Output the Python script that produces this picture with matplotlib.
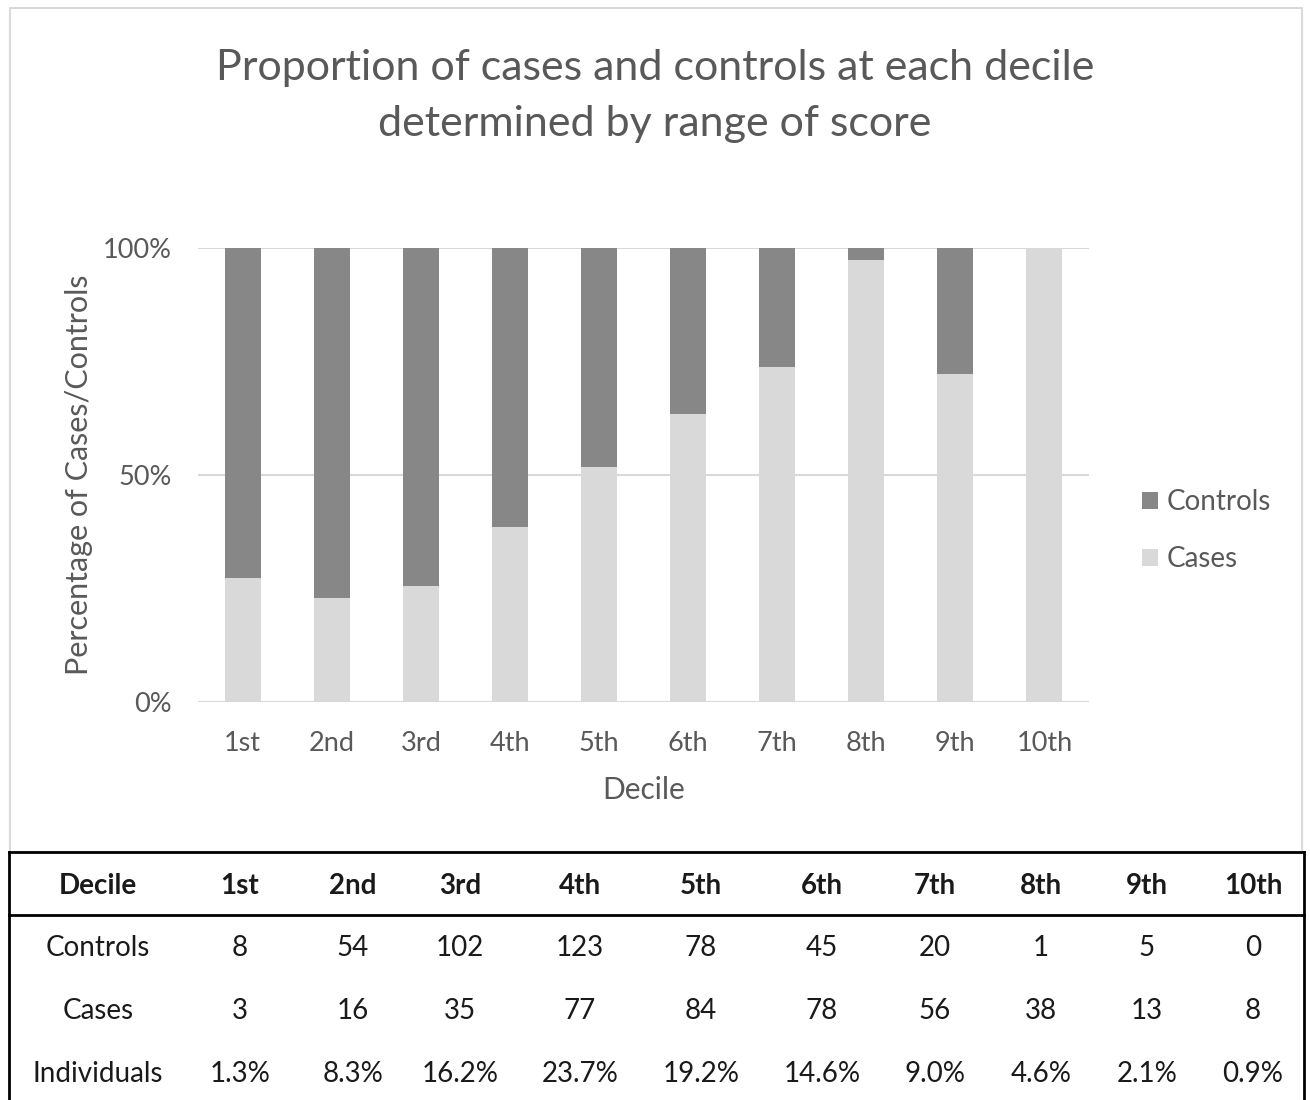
#!/usr/bin/env python
# coding:utf-8

"""
decile_plot.py
stacked proportion of cases / controls per score decile, with count table
"""

import matplotlib.pyplot as plt
import numpy as np
from matplotlib.patches import Rectangle

plt.rcParams['font.family'] = ['Lato', 'DejaVu Sans']

deciles = ["1st", "2nd", "3rd", "4th", "5th", "6th", "7th", "8th", "9th", "10th"]
controls = [8, 54, 102, 123, 78, 45, 20, 1, 5, 0]
cases = [3, 16, 35, 77, 84, 78, 56, 38, 13, 8]

TEXT = "#595959"
DARK = "#878787"
LIGHT = "#d9d9d9"


def main():
    ctl = np.array(controls, dtype=float)
    cas = np.array(cases, dtype=float)
    tot = ctl + cas
    p_cases = cas / tot
    p_ctl = ctl / tot
    share = 100 * tot / tot.sum()

    fig = plt.figure(figsize=(13.1, 11), dpi=100)

    # frame around chart area + table, drawn in pixel coordinates
    bg = fig.add_axes([0, 0, 1, 1], zorder=0)
    bg.set_xlim(0, 1310)
    bg.set_ylim(1100, 0)
    bg.axis("off")
    bg.add_patch(Rectangle((10, 8), 1292, 844, fill=False,
                           edgecolor=LIGHT, lw=1.5))

    ax = fig.add_axes([198 / 1310, 398 / 1100, 891 / 1310, 454 / 1100], zorder=1)
    x = np.arange(len(deciles))
    ax.bar(x, p_cases, width=0.405, color=LIGHT, label="Cases", zorder=3)
    ax.bar(x, p_ctl, bottom=p_cases, width=0.405, color=DARK,
           label="Controls", zorder=3)
    ax.set_xlim(-0.5, len(deciles) - 0.5)
    ax.set_ylim(0, 1)
    ax.set_yticks([0, 0.5, 1])
    ax.set_yticklabels(["0%", "50%", "100%"])
    ax.set_xticks(x)
    ax.set_xticklabels(deciles)
    ax.tick_params(length=0, labelsize=19.5, colors=TEXT)
    ax.tick_params(axis="y", pad=19)
    ax.tick_params(axis="x", pad=21)
    ax.grid(axis="y", color=LIGHT, lw=1.5, zorder=0)
    for s in ax.spines.values():
        s.set_visible(False)
    ax.set_ylabel("Percentage of Cases/Controls", fontsize=22, color=TEXT,
                  labelpad=7)
    ax.set_xlabel("Decile", fontsize=21.5, color=TEXT, labelpad=14)

    h, l = ax.get_legend_handles_labels()
    leg = ax.legend(h[::-1], l[::-1], loc="center left",
                    bbox_to_anchor=(1.031, 0.377), frameon=False,
                    fontsize=20, handlelength=0.6, handleheight=0.6,
                    handletextpad=0.3, labelspacing=1.12)
    for t in leg.get_texts():
        t.set_color(TEXT)

    fig.text(0.5, 1 - 96 / 1100,
             "Proportion of cases and controls at each decile\n"
             "determined by range of score",
             ha="center", va="center", fontsize=31, color=TEXT,
             linespacing=1.55)

    # count table under the chart
    bg.plot([9, 1304], [852, 852], color="black", lw=2)
    bg.plot([9, 1304], [915, 915], color="black", lw=2)
    bg.plot([9, 9], [852, 1100], color="black", lw=2)
    bg.plot([1304, 1304], [852, 1100], color="black", lw=2)

    col_x = [98, 240, 353, 460, 580, 701, 822, 935, 1041, 1147, 1253]
    row_y = [886, 948, 1011, 1074]
    rows = [
        ["Decile"] + deciles,
        ["Controls"] + [str(v) for v in controls],
        ["Cases"] + [str(v) for v in cases],
        ["Individuals"] + ["%.1f%%" % v for v in share],
    ]
    for r, (yy, row) in enumerate(zip(row_y, rows)):
        for xx, s in zip(col_x, row):
            bg.text(xx, yy, s, ha="center", va="center", fontsize=20,
                    color="#1a1a1a", fontweight="bold" if r == 0 else "normal")

    fig.savefig("out.png", dpi=100)


if __name__ == "__main__":
    main()
